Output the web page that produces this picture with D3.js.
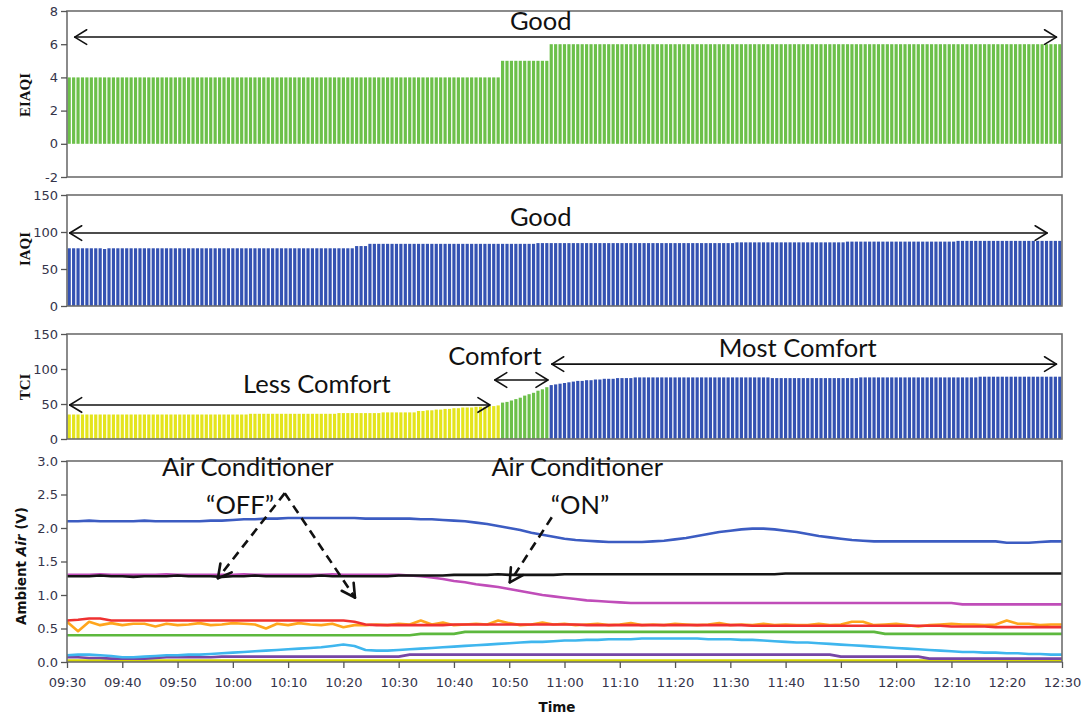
<!DOCTYPE html>
<html><head><meta charset="utf-8">
<script src="https://cdn.jsdelivr.net/npm/d3@7"></script>
<style>body{margin:0;background:#fff}svg{display:block}</style>
</head><body><svg id="c" width="1083" height="719"></svg>
<script>
// ---------------- DATA ----------------
const startTime = "09:30", endTime = "12:30";
const barIntervalSec = 48;   // one bar every 48 s
const lineIntervalMin = 2;   // one line sample every 2 min

const eiaqiValues = [
4,4,4,4,4,4,4,4,4,4, 4,4,4,4,4,4,4,4,4,4, 4,4,4,4,4,4,4,4,4,4,
4,4,4,4,4,4,4,4,4,4, 4,4,4,4,4,4,4,4,4,4, 4,4,4,4,4,4,4,4,4,4,
4,4,4,4,4,4,4,4,4,4, 4,4,4,4,4,4,4,4,4,4, 4,4,4,4,4,4,4,4,4,4,
4,4,4,4,4,4,4,4,
5,5,5,5,5,5,5,5,5,5,5,
6,6,6,6,6,6,6,6,6,6, 6,6,6,6,6,6,6,6,6,6, 6,6,6,6,6,6,6,6,6,6,
6,6,6,6,6,6,6,6,6,6, 6,6,6,6,6,6,6,6,6,6, 6,6,6,6,6,6,6,6,6,6,
6,6,6,6,6,6,6,6,6,6, 6,6,6,6,6,6,6,6,6,6, 6,6,6,6,6,6,6,6,6,6,
6,6,6,6,6,6,6,6,6,6, 6,6,6,6,6,6,6,6,6,6, 6,6,6,6,6,6,6];

const iaqiValues = [
78,78,78,78,78,78,78,78,77,78, 78,78,78,78,78,78,78,78,78,78, 78,78,78,78,78,78,78,78,78,78,
78,78,78,78,78,78,78,78,78,78, 78,78,78,78,78,78,78,78,78,78, 78,78,78,78,78,78,78,78,78,78,
78,78,78,78,78,
81,81,81,
84,84,84,84,84,84,84,84,84,84, 84,84,84,84,84,84,84,84,84,84, 84,84,84,84,84,84,84,84,84,84, 84,84,84,84,84,84,84,84,
85,85,85,85,85,85,85,85,85,85, 85,85,85,85,85,85,85,85,85,85, 85,85,85,85,85,85,85,85,85,85,
85,85,85,85,85,85,85,85,85,85, 85,85,85,85,85,
86,86,86,86,86,86,86,86,86,86, 86,86,86,86,86,86,86,86,86,86, 86,86,86,86,86,
87,87,87,87,87,87,87,87,87,87, 87,87,87,87,87,87,87,87,87,87, 87,87,87,87,87,
88,88,88,88,88,88,88,88,88,88, 88,88,88,88,88,88,88,88,88,88, 88,88,88,88,88];

const tciValues = [
35,35,35,35,35,35,35,35,35,35, 35,35,35,35,35,35,35,35,35,35, 35,35,35,35,35,35,35,35,35,35,
35,35,35,35,35,35,35,35,35,35, 35,
36,36,36,36,36,36,36,36,36,36, 36,36,36,36,36,36,36,36,36,36,
37,37,37,37,37,37,37,37,37,37,
38,38,38,38,38,38,38,38,
40,40,41,41,42,42,43,
43,44,44,45,45,45,46,46,46,47,47,48,
52,53,55,57,59,62,64,66,69,71,74,
77,78,79,80,81,82,83,83,84,84,85,85,86,86,86,87,87,87,87,88,
88,88,88,88,88,88,88,88,88,88, 88,88,88,88,88,88,88,88,88,88, 88,88,88,88,88,88,88,88,88,88,
87,87,87,87,87,87,87,87,87,87, 87,87,87,87,87,87,87,87,87,87,
88,88,88,88,88,88,88,88,88,88, 88,88,88,88,88,88,88,88,88,88, 88,88,88,88,88,88,88,
89,89,89,89,89,89,89,89,89,89, 89,89,89,89,89,89,89,89,89,89];

const tciClassLimits = [50, 76]; // Less Comfort < 50 <= Comfort < 76 <= Most Comfort

const ambientBlue = [
2.10,2.10,2.11,2.10,2.10,2.10,2.10,2.11,2.10,2.10,2.10,2.10,2.10,2.11,2.11,
2.12,2.13,2.13,
2.14,2.14,2.15,2.15,2.15,2.15,2.15,2.15,2.15,2.14,2.14,2.14,2.14,2.14,2.13,
2.13,2.12,2.11,2.10,
2.08,2.06,2.03,2.00,1.97,1.93,1.90,1.87,1.84,
1.82,1.81,1.80,1.79,1.79,1.79,1.79,
1.80,1.81,1.83,1.85,1.88,1.91,1.94,1.96,1.98,1.99,
1.99,1.98,1.96,
1.94,1.91,1.88,1.86,1.84,1.82,1.81,
1.80,1.80,1.80,1.80,1.80,1.80,1.80,1.80,1.80,1.80,1.80,1.80,1.78,1.78,1.78,1.79,1.80,1.80];

const ambientBlack = [
1.28,1.28,1.28,1.29,1.28,1.28,1.27,1.28,1.28,1.28, 1.29,1.28,1.28,1.28,1.27,1.28,1.28,1.29,1.28,1.28,
1.28,1.28,1.28,1.29,1.28,1.28,1.28,1.28,1.28,1.28, 1.29,1.29,1.29,1.29,1.29,
1.30,1.30,1.30,1.30,1.31,1.30,1.30,1.30,1.30,1.30,
1.31,1.31,1.31,1.31,1.31,1.31,1.31,1.31,1.31,1.31, 1.31,1.31,1.31,1.31,1.31,1.31,1.31,1.31,1.31,1.31,
1.32,1.32,1.32,1.32,1.32,1.32,1.32,1.32,1.32,1.32, 1.32,1.32,1.32,1.32,1.32,1.32,1.32,1.32,1.32,1.32,
1.32,1.32,1.32,1.32,1.32,1.32];

const ambientMagenta = [
1.30,1.30,1.30,1.31,1.30,1.30,1.30,1.30,1.30,1.31, 1.30,1.30,1.30,1.30,1.30,1.30,1.31,1.30,1.30,1.30,
1.30,1.30,1.30,1.30,1.31,1.30,1.30,1.30,1.30,1.30, 1.30,1.29,
1.28,1.26,1.24,1.21,1.19,1.16,1.14,1.12,1.09,1.06,1.03,1.00,0.98,0.96,0.94,0.92,0.91,0.90,0.89,
0.88,0.88,0.88,0.88,0.88,0.88,0.88,0.88,0.88,0.88, 0.88,0.88,0.88,0.88,0.88,0.88,0.88,0.88,0.88,0.88,
0.88,0.88,0.88,0.88,0.88,0.88,0.88,0.88,0.88,0.88,
0.86,0.86,0.86,0.86,0.86,0.86,0.86,0.86,0.86,0.86];

const ambientRed = [
0.62,0.63,0.65,0.65,0.62,0.62,0.62,0.62,0.62,0.62, 0.62,0.62,0.62,0.62,0.62,0.62,0.62,0.62,0.62,0.62,
0.62,0.62,0.62,0.62,0.62,0.62,0.60,
0.56,0.55,0.55,0.55,0.55,0.55,0.55,0.55,0.56,0.56,
0.56,0.56,0.56,0.56,0.56,0.56,0.56,0.56,0.56,0.56,
0.55,0.55,0.55,0.55,0.55,0.55,0.55,0.55,0.55,0.55,
0.55,0.55,0.55,0.55,0.55,0.54,0.54,0.54,0.54,0.54,
0.54,0.54,0.54,0.54,0.54,0.54,0.54,0.54,0.54,0.54,
0.54,0.54,0.54,0.53,0.53,0.53,0.53,0.52,0.52,0.52,
0.52,0.52,0.52,0.52];

const ambientOrange = [
0.60,0.46,0.60,0.55,0.58,0.55,0.57,0.57,0.53,0.57, 0.55,0.56,0.58,0.55,0.56,0.58,0.57,0.56,0.50,0.57,
0.55,0.58,0.56,0.55,0.57,0.52,0.55,
0.55,0.56,0.55,0.57,0.56,0.62,0.56,0.59,0.55,0.56, 0.57,0.56,0.62,0.58,0.55,0.56,0.59,0.56,0.57,0.55,
0.56,0.57,0.55,0.56,0.58,0.55,0.56,0.55,0.57,0.56, 0.55,0.56,0.58,0.55,0.56,0.55,0.57,0.55,0.56,0.55,
0.55,0.57,0.55,0.56,0.60,0.60,0.55,0.56,0.57,0.55, 0.53,0.55,0.56,0.57,0.56,0.56,0.55,0.56,0.62,0.57,
0.57,0.55,0.56,0.56];

const ambientGreen = [
0.40,0.40,0.40,0.40,0.40,0.40,0.40,0.40,0.40,0.40, 0.40,0.40,0.40,0.40,0.40,0.40,0.40,0.40,0.40,0.40,
0.40,0.40,0.40,0.40,0.40,0.40,0.40,0.40,0.40,0.40, 0.40,0.40,
0.42,0.42,0.42,0.42,
0.45,0.45,0.45,0.45,0.45,0.45,0.45,0.45,0.45,0.45, 0.45,0.45,0.45,0.45,0.45,0.45,0.45,0.45,0.45,0.45,
0.45,0.45,0.45,0.45,0.45,0.45,0.45,0.45,0.45,0.45, 0.45,0.45,0.45,0.45,0.45,0.45,0.45,0.45,
0.42,0.42,0.42,0.42,0.42,0.42,0.42,0.42,0.42,0.42, 0.42,0.42,0.42,0.42,0.42,0.42,0.42];

const ambientLightBlue = [
0.10,0.11,0.11,0.10,0.09,
0.07,0.07,0.08,0.09,0.10,
0.10,0.11,0.11,0.12,0.13,0.14,0.15,0.16,0.17,0.18,
0.19,0.20,0.21,0.22,0.24,0.26,0.24,
0.18,0.17,0.17,0.18,0.19,0.20,0.21,0.22,
0.23,0.24,0.25,0.26,0.27,0.28,0.29,0.30,0.30,0.31,0.32,
0.32,0.33,0.33,0.34,0.34,0.34,0.35,0.35,0.35,0.35, 0.35,0.35,0.34,0.34,0.34,0.33,0.33,0.32,0.31,0.30,
0.29,0.29,0.28,0.27,0.26,0.25,0.24,0.23,0.22,0.21, 0.20,0.19,0.18,0.17,0.16,0.15,0.15,0.14,0.14,0.13,
0.13,0.12,0.12,0.11,0.11];

const ambientPurple = [
0.07,0.07,0.06,0.06,
0.05,0.05,0.05,0.05,
0.06,0.07,0.07,0.07,0.07,0.07,0.08,
0.08,0.08,0.08,0.08,0.08,0.08,0.08,0.08,0.08,0.08,0.08,0.08,0.08,0.08,0.08,0.08,
0.11,0.11,0.11,0.11,0.11,0.11,0.11,0.11,0.11,0.11, 0.11,0.11,0.11,0.11,0.11,0.11,0.11,0.11,0.11,0.11,
0.11,0.11,0.11,0.11,0.11,0.11,0.11,0.11,0.11,0.11, 0.11,0.11,0.11,0.11,0.11,0.11,0.11,0.11,0.11,
0.08,0.08,0.08,0.08,0.08,0.08,0.08,0.08,
0.05,0.05,0.05,0.05,0.05,0.05,0.05,0.05,0.05,0.05,0.05,0.05,0.05];

const ambientYellow = [
0.02,0.02,0.02,0.02,0.02,0.02,0.02,0.02,0.02,0.02, 0.02,0.02,0.02,0.02,0.02,0.02,0.02,0.02,0.02,0.02,
0.02,0.02,0.02,0.02,0.02,0.02,0.02,0.02,0.02,0.02, 0.02,0.02,0.02,0.02,0.02,0.02,0.02,0.02,0.02,0.02,
0.02,0.02,0.02,0.02,0.02,0.02,0.02,0.02,0.02,0.02, 0.02,0.02,0.02,0.02,0.02,0.02,0.02,0.02,0.02,0.02,
0.02,0.02,0.02,0.02,0.02,0.02,0.02,0.02,0.02,0.02, 0.02,0.02,0.02,0.02,0.02,0.02,0.02,0.02,0.02,0.02,
0.02,0.02,0.02,0.02,0.02,0.02,0.02,0.02,0.02,0.02, 0.02];

const eiaqiTicks = [-2, 0, 2, 4, 6, 8];
const iaqiTicks = [0, 50, 100, 150];
const tciTicks = [0, 50, 100, 150];
const ambientTicks = [0, 0.5, 1.0, 1.5, 2.0, 2.5, 3.0];
const timeTickMinutes = 10;

// annotation texts, positions in (minutes after start, value)
const bandLabels = [
  {panel: 0, text: "Good", t: 85.7, v: 6.86, a0: 1.4, a1: 179.0, av: 6.43},
  {panel: 1, text: "Good", t: 85.7, v: 108, a0: 0.5, a1: 177.3, av: 98.6},
  {panel: 2, text: "Less Comfort", t: 45.2, v: 65.7, a0: 0.5, a1: 76.5, av: 48.6},
  {panel: 2, text: "Comfort", t: 77.4, v: 105.7, a0: 77.4, a1: 87.0, av: 84.3},
  {panel: 2, text: "Most Comfort", t: 132.2, v: 117, a0: 87.7, a1: 179.0, av: 107}
];
const acNotes = [
  {lines: ["Air Conditioner", "\u201COFF\u201D"], t: [32.7, 31.3], v: [2.78, 2.21],
   from: [39.4, 2.52], to: [[27.3, 1.25], [52.1, 0.96]]},
  {lines: ["Air Conditioner", "\u201CON\u201D"], t: [92.3, 92.8], v: [2.78, 2.21],
   from: [87.7, 2.16], to: [[80.1, 1.19]]}
];

// ---------------- DRAW ----------------
const svg = d3.select("#c");
const parse = d3.timeParse("%H:%M");
const T0 = parse(startTime), T1 = parse(endTime);
const x = d3.scaleTime().domain([T0, T1]).range([67, 1062]);
const minT = m => new Date(T0.getTime() + m * 60000);
const barTime = i => new Date(T0.getTime() + i * barIntervalSec * 1000);
const lineTime = i => new Date(T0.getTime() + i * lineIntervalMin * 60000);

const intFmt = d => String(d);
const panels = [
  {title: "EIAQI", domain: [-2, 8], range: [177, 11], ticks: eiaqiTicks, fmt: intFmt, titleY: 95},
  {title: "IAQI", domain: [0, 150], range: [306, 195], ticks: iaqiTicks, fmt: intFmt, titleY: 249},
  {title: "TCI", domain: [0, 150], range: [439, 334], ticks: tciTicks, fmt: intFmt, titleY: 387},
  {title: "Ambient Air (V)", domain: [0, 3], range: [662, 461], ticks: ambientTicks, fmt: d3.format(".1f"), titleY: 566}
];
panels.forEach(p => p.y = d3.scaleLinear().domain(p.domain).range(p.range));

const tickFont = "DejaVu Sans, sans-serif";
const serifFont = "'Liberation Serif', 'DejaVu Serif', serif";
const noteFont = "Lato, 'Open Sans', sans-serif";
const GREEN = "#6cc04a", BLUE = "#3452b2", YELLOW = "#e4e41c";

// clip paths
const defs = svg.append("defs");
panels.forEach((p, k) => {
  defs.append("clipPath").attr("id", "clip" + k).append("rect")
    .attr("x", x.range()[0]).attr("y", p.range[1])
    .attr("width", x.range()[1] - x.range()[0]).attr("height", p.range[0] - p.range[1]);
});

const step = x(barTime(1)) - x(barTime(0));
const bw = step * 0.72;

function drawBars(k, values, colorFn) {
  const p = panels[k];
  svg.append("g").attr("clip-path", `url(#clip${k})`)
    .selectAll("rect").data(values).join("rect")
    .attr("x", (d, i) => x(barTime(i)) - bw / 2 + step / 2)
    .attr("width", bw)
    .attr("y", d => p.y(Math.max(0, d)))
    .attr("height", d => Math.abs(p.y(d) - p.y(0)))
    .attr("fill", colorFn);
}
drawBars(0, eiaqiValues, () => GREEN);
drawBars(1, iaqiValues, () => BLUE);
drawBars(2, tciValues, d => d < tciClassLimits[0] ? YELLOW : d < tciClassLimits[1] ? GREEN : BLUE);

// lines
const series = [
  {v: ambientYellow, c: "#d6d600"},
  {v: ambientPurple, c: "#7646a6"},
  {v: ambientLightBlue, c: "#3fb6ee"},
  {v: ambientGreen, c: "#5db83e"},
  {v: ambientOrange, c: "#ffa51c"},
  {v: ambientRed, c: "#ef3131"},
  {v: ambientMagenta, c: "#c04db9"},
  {v: ambientBlack, c: "#141414"},
  {v: ambientBlue, c: "#3c5cc2"}
];
const pA = panels[3];
const gl = svg.append("g").attr("clip-path", "url(#clip3)");
series.forEach(s => {
  gl.append("path").datum(s.v)
    .attr("fill", "none").attr("stroke", s.c).attr("stroke-width", 2.6)
    .attr("stroke-linejoin", "round")
    .attr("d", d3.line().x((d, i) => x(lineTime(i))).y(d => pA.y(d)));
});

// frames and axes
panels.forEach((p, k) => {
  svg.append("rect").attr("x", x.range()[0]).attr("y", p.range[1])
    .attr("width", x.range()[1] - x.range()[0]).attr("height", p.range[0] - p.range[1])
    .attr("fill", "none").attr("stroke", "#6e6e6e").attr("stroke-width", 1.6);
  const ax = svg.append("g").attr("transform", `translate(${x.range()[0]},0)`)
    .call(d3.axisLeft(p.y).tickValues(p.ticks).tickFormat(p.fmt).tickSize(6).tickPadding(3));
  ax.select(".domain").remove();
  ax.selectAll(".tick line").attr("stroke", "#555").attr("stroke-width", 1.3);
  ax.selectAll("text").attr("font-family", tickFont).attr("font-size", 13).attr("fill", "#35344a");
  const tt = svg.append("text")
    .attr("transform", `translate(${k === 3 ? 26 : 30},${p.titleY}) rotate(-90)`)
    .attr("text-anchor", "middle").attr("font-family", k === 3 ? tickFont : serifFont)
    .attr("font-size", k === 3 ? 13.5 : 15)
    .attr("font-weight", "bold").attr("fill", "#111");
  if (k === 3) {
    tt.append("tspan").text("Ambient ");
    tt.append("tspan").attr("font-style", "italic").text("Air");
    tt.append("tspan").text(" (V)");
  } else tt.text(p.title);
});

// x axis
const xa = svg.append("g").attr("transform", `translate(0,${pA.range[0]})`)
  .call(d3.axisBottom(x).ticks(d3.timeMinute.every(timeTickMinutes)).tickFormat(d3.timeFormat("%H:%M")).tickSize(6).tickPadding(10));
xa.select(".domain").remove();
xa.selectAll(".tick line").attr("stroke", "#555").attr("stroke-width", 1.3);
xa.selectAll("text").attr("font-family", tickFont).attr("font-size", 13).attr("fill", "#35344a");
svg.append("text").attr("x", 557).attr("y", 712)
  .attr("text-anchor", "middle").attr("font-family", tickFont).attr("font-size", 13.5)
  .attr("font-weight", "bold").attr("fill", "#111").text("Time");

// annotation helpers
function chevron(g, xe, ye, ang, len, spread, w) {
  [1, -1].forEach(sgn => {
    const a = ang + Math.PI + sgn * spread;
    g.append("line").attr("x1", xe).attr("y1", ye)
      .attr("x2", xe + len * Math.cos(a)).attr("y2", ye + len * Math.sin(a))
      .attr("stroke", "#111").attr("stroke-width", w).attr("stroke-linecap", "round");
  });
}
const ga = svg.append("g");
bandLabels.forEach(b => {
  const p = panels[b.panel];
  ga.append("text").attr("x", x(minT(b.t))).attr("y", p.y(b.v))
    .attr("text-anchor", "middle").attr("font-family", noteFont).attr("font-size", 25.5)
    .attr("fill", "#111").text(b.text);
  const x1 = x(minT(b.a0)), x2 = x(minT(b.a1)), yy = p.y(b.av);
  ga.append("line").attr("x1", x1).attr("x2", x2).attr("y1", yy).attr("y2", yy)
    .attr("stroke", "#111").attr("stroke-width", 1.6);
  chevron(ga, x2, yy, 0, 14, 0.55, 1.6);
  chevron(ga, x1, yy, Math.PI, 14, 0.55, 1.6);
});
acNotes.forEach(n => {
  n.lines.forEach((s, j) => {
    ga.append("text").attr("x", x(minT(n.t[j]))).attr("y", pA.y(n.v[j]))
      .attr("text-anchor", "middle").attr("font-family", noteFont).attr("font-size", 25.5)
      .attr("fill", "#111").text(s);
  });
  const fx = x(minT(n.from[0])), fy = pA.y(n.from[1]);
  n.to.forEach(tp => {
    const tx = x(minT(tp[0])), ty = pA.y(tp[1]);
    ga.append("line").attr("x1", fx).attr("y1", fy).attr("x2", tx).attr("y2", ty)
      .attr("stroke", "#111").attr("stroke-width", 2.6).attr("stroke-dasharray", "9,6");
    chevron(ga, tx, ty, Math.atan2(ty - fy, tx - fx), 15, 0.5, 2.6);
  });
});
</script></body></html>
